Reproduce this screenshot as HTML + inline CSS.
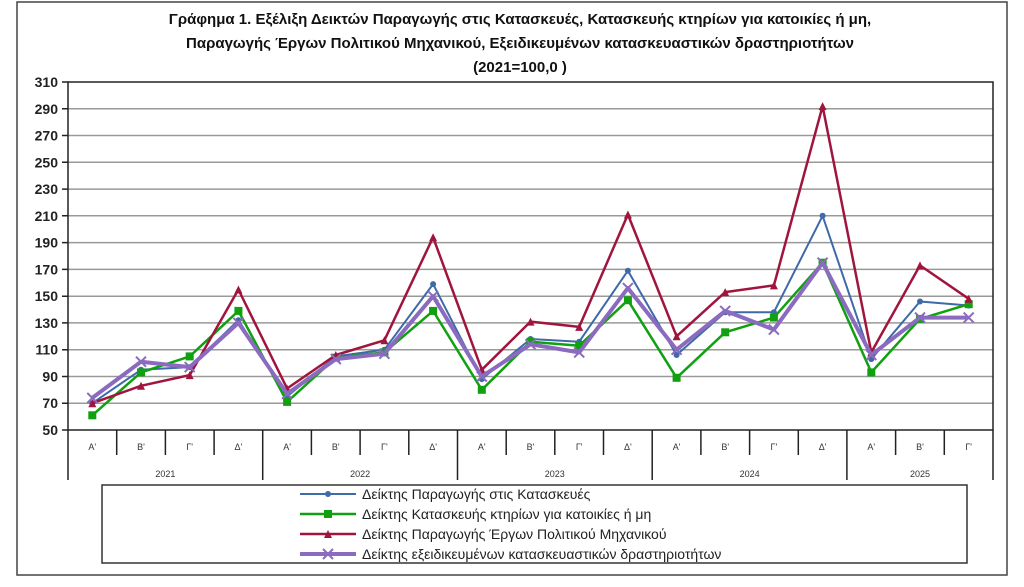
<!DOCTYPE html>
<html><head><meta charset="utf-8"><style>
body{margin:0;background:#fff;}
svg{display:block;font-family:"Liberation Sans","DejaVu Sans",sans-serif;}
</style></head><body>
<svg width="1024" height="587" viewBox="0 0 1024 587" xmlns="http://www.w3.org/2000/svg">
<defs>
<marker id="mc" markerUnits="userSpaceOnUse" markerWidth="10" markerHeight="10" refX="5" refY="5" overflow="visible"><circle cx="5" cy="5" r="3" fill="#3e6aa8"/></marker>
<marker id="ms" markerUnits="userSpaceOnUse" markerWidth="10" markerHeight="10" refX="5" refY="5" overflow="visible"><rect x="1" y="1" width="8" height="8" fill="#10a010"/></marker>
<marker id="mt" markerUnits="userSpaceOnUse" markerWidth="10" markerHeight="10" refX="5" refY="5" overflow="visible"><path d="M1,9 L5,1 L9,9Z" fill="#a0153e"/></marker>
<marker id="mx" markerUnits="userSpaceOnUse" markerWidth="12" markerHeight="12" refX="6" refY="6" overflow="visible"><path d="M1,1 L11,11 M11,1 L1,11" stroke="#8a6bbf" stroke-width="2"/></marker>
</defs>
<rect x="17" y="2" width="990" height="573" fill="#fff" stroke="#444" stroke-width="1.5"/>
<g font-weight="bold" font-size="15" text-anchor="middle" fill="#111">
<text x="520" y="24">Γράφημα 1. Εξέλιξη  Δεικτών Παραγωγής στις Κατασκευές,  Κατασκευής κτηρίων για κατοικίες ή  μη,</text>
<text x="520" y="48">Παραγωγής  Έργων Πολιτικού Μηχανικού,  Εξειδικευμένων κατασκευαστικών δραστηριοτήτων</text>
<text x="520" y="72">(2021=100,0 )</text>
</g>
<g stroke="#999" stroke-width="1.5">
<line x1="68" x2="993" y1="403.2" y2="403.2"/><line x1="68" x2="993" y1="376.5" y2="376.5"/>
<line x1="68" x2="993" y1="349.7" y2="349.7"/><line x1="68" x2="993" y1="322.9" y2="322.9"/>
<line x1="68" x2="993" y1="296.2" y2="296.2"/><line x1="68" x2="993" y1="269.4" y2="269.4"/>
<line x1="68" x2="993" y1="242.6" y2="242.6"/><line x1="68" x2="993" y1="215.8" y2="215.8"/>
<line x1="68" x2="993" y1="189.1" y2="189.1"/><line x1="68" x2="993" y1="162.3" y2="162.3"/>
<line x1="68" x2="993" y1="135.5" y2="135.5"/><line x1="68" x2="993" y1="108.8" y2="108.8"/>
</g>
<g font-size="14" font-weight="bold" fill="#222" text-anchor="end">
<text x="58" y="435">50</text><text x="58" y="408.2">70</text><text x="58" y="381.5">90</text>
<text x="58" y="354.7">110</text><text x="58" y="327.9">130</text><text x="58" y="301.2">150</text>
<text x="58" y="274.4">170</text><text x="58" y="247.6">190</text><text x="58" y="220.8">210</text>
<text x="58" y="194.1">230</text><text x="58" y="167.3">250</text><text x="58" y="140.5">270</text>
<text x="58" y="113.8">290</text><text x="58" y="87">310</text>
</g>
<g stroke="#222" stroke-width="1.5">
<rect x="68" y="82" width="925" height="348" fill="none"/>
<path d="M62,430H68M62,403.2H68M62,376.5H68M62,349.7H68M62,322.9H68M62,296.2H68M62,269.4H68M62,242.6H68M62,215.8H68M62,189.1H68M62,162.3H68M62,135.5H68M62,108.8H68M62,82H68"/>
<path d="M68,430V480M262.7,430V480M457.5,430V480M652.2,430V480M846.9,430V480M993,430V480"/>
<path d="M116.7,430V455M165.4,430V455M214.1,430V455M311.4,430V455M360.1,430V455M408.8,430V455M506.2,430V455M554.8,430V455M603.5,430V455M700.9,430V455M749.6,430V455M798.3,430V455M895.6,430V455M944.3,430V455"/>
</g>
<g font-size="9" fill="#333" text-anchor="middle">
<text x="92.3" y="450">Α'</text><text x="141" y="450">Β'</text><text x="189.7" y="450">Γ'</text><text x="238.4" y="450">Δ'</text>
<text x="287.1" y="450">Α'</text><text x="335.8" y="450">Β'</text><text x="384.4" y="450">Γ'</text><text x="433.1" y="450">Δ'</text>
<text x="481.8" y="450">Α'</text><text x="530.5" y="450">Β'</text><text x="579.2" y="450">Γ'</text><text x="627.9" y="450">Δ'</text>
<text x="676.6" y="450">Α'</text><text x="725.2" y="450">Β'</text><text x="773.9" y="450">Γ'</text><text x="822.6" y="450">Δ'</text>
<text x="871.3" y="450">Α'</text><text x="920" y="450">Β'</text><text x="968.7" y="450">Γ'</text>
<text x="165.4" y="477">2021</text><text x="360.1" y="477">2022</text><text x="554.8" y="477">2023</text><text x="749.6" y="477">2024</text><text x="920" y="477">2025</text>
</g>
<g fill="none" stroke-linejoin="round">
<polyline stroke="#3e6aa8" stroke-width="2" marker-start="url(#mc)" marker-mid="url(#mc)" marker-end="url(#mc)" points="92.3,403.2 141,369.8 189.7,367.1 238.4,320.2 287.1,396.5 335.8,356.4 384.4,349.7 433.1,284.1 481.8,379.1 530.5,339 579.2,341.7 627.9,270.7 676.6,355 725.2,312.2 773.9,312.2 822.6,215.8 871.3,359.1 920,301.5 968.7,305.5"/>
<polyline stroke="#10a010" stroke-width="2.5" marker-start="url(#ms)" marker-mid="url(#ms)" marker-end="url(#ms)" points="92.3,415.3 141,372.4 189.7,356.4 238.4,310.9 287.1,401.9 335.8,357.7 384.4,352.4 433.1,310.9 481.8,389.8 530.5,341.7 579.2,345.7 627.9,300.2 676.6,377.8 725.2,332.3 773.9,317.6 822.6,262.7 871.3,372.4 920,318.9 968.7,304.2"/>
<polyline stroke="#a0153e" stroke-width="2.5" marker-start="url(#mt)" marker-mid="url(#mt)" marker-end="url(#mt)" points="92.3,403.2 141,385.8 189.7,375.1 238.4,289.5 287.1,388.5 335.8,355 384.4,340.3 433.1,237.3 481.8,369.8 530.5,321.6 579.2,326.9 627.9,214.5 676.6,336.3 725.2,292.1 773.9,285.4 822.6,106.1 871.3,352.4 920,265.4 968.7,298.8"/>
<polyline stroke="#8a6bbf" stroke-width="4" marker-start="url(#mx)" marker-mid="url(#mx)" marker-end="url(#mx)" points="92.3,397.9 141,361.7 189.7,367.1 238.4,322.9 287.1,393.9 335.8,359.1 384.4,353.7 433.1,296.2 481.8,376.5 530.5,344.3 579.2,352.4 627.9,288.1 676.6,349.7 725.2,310.9 773.9,329.6 822.6,262.7 871.3,355 920,317.6 968.7,317.6"/>
</g>
<rect x="102" y="485" width="865" height="78" fill="#fff" stroke="#333" stroke-width="1.5"/>
<g font-size="14" fill="#222">
<line x1="300" y1="494" x2="356" y2="494" stroke="#3e6aa8" stroke-width="2"/><circle cx="328" cy="494" r="3" fill="#3e6aa8"/>
<text x="362" y="499">Δείκτης Παραγωγής στις Κατασκευές</text>
<line x1="300" y1="514" x2="356" y2="514" stroke="#10a010" stroke-width="2.5"/><rect x="324" y="510" width="8" height="8" fill="#10a010"/>
<text x="362" y="519">Δείκτης Κατασκευής κτηρίων για κατοικίες ή μη</text>
<line x1="300" y1="534" x2="356" y2="534" stroke="#a0153e" stroke-width="2.5"/><path d="M324,538 L328,530 L332,538Z" fill="#a0153e"/>
<text x="362" y="539">Δείκτης Παραγωγής Έργων Πολιτικού Μηχανικού</text>
<line x1="300" y1="554" x2="356" y2="554" stroke="#8a6bbf" stroke-width="4"/><path d="M323,549 L333,559 M333,549 L323,559" stroke="#8a6bbf" stroke-width="2"/>
<text x="362" y="559">Δείκτης εξειδικευμένων κατασκευαστικών δραστηριοτήτων</text>
</g>
</svg>
</body></html>
